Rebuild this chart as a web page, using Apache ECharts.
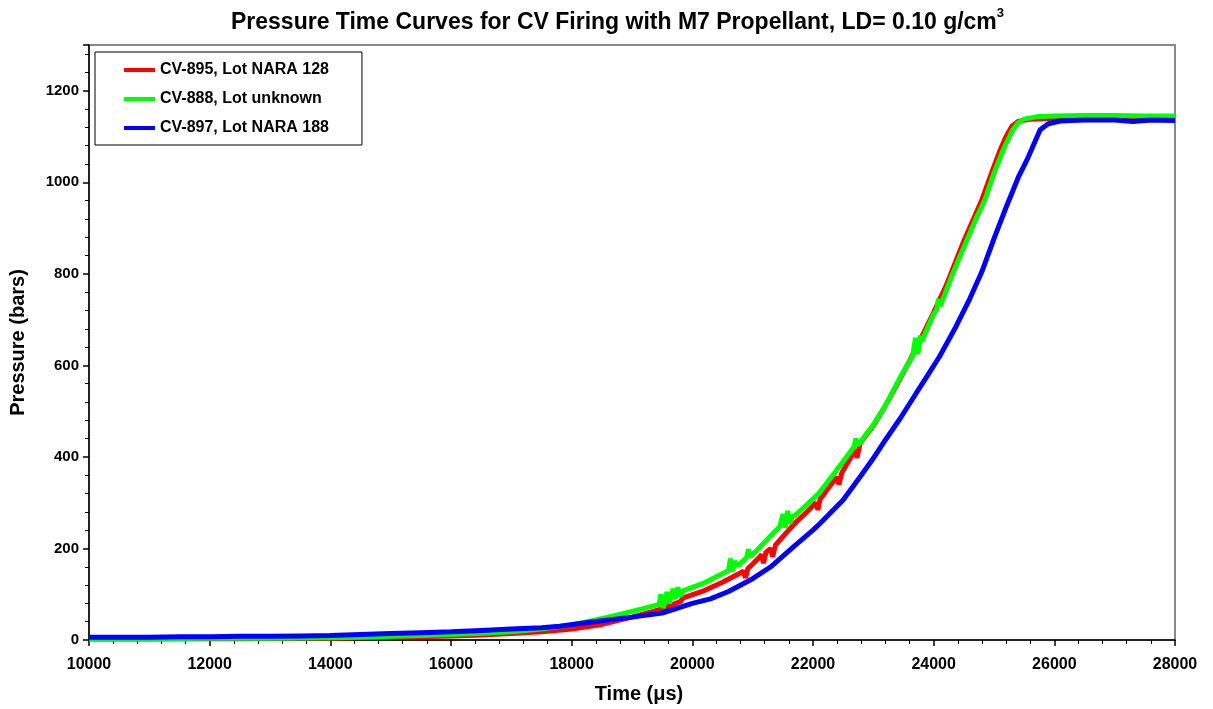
<!DOCTYPE html>
<html>
<head>
<meta charset="utf-8">
<script src="https://cdn.jsdelivr.net/npm/echarts@6/dist/echarts.min.js"></script>
<style>html,body{margin:0;padding:0;background:#fff}#c{width:1213px;height:709px}</style>
</head>
<body>
<div id="c"></div>
<script>
const seriesNames = ['CV-895, Lot NARA 128', 'CV-888, Lot unknown', 'CV-897, Lot NARA 188'];
const seriesColors = ['#ff0000', '#00ff00', '#0000ff'];
const xTicks = [10000, 12000, 14000, 16000, 18000, 20000, 22000, 24000, 26000, 28000];
const yTicks = [0, 200, 400, 600, 800, 1000, 1200];

const cv895 = [[10000,2],[10500,2],[11000,2],[11500,3],[12000,3],[12500,3],[13000,4],[13500,4],[14000,4],[14500,5],[15000,6],[15500,7],[16000,9],[16500,11],[17000,14],[17500,18],[18000,24],[18500,34],[19000,50],[19500,68],[19800,84],[19850,92],[20200,108],[20500,126],[20700,140],[20850,150],[20880,136],[20920,156],[21000,166],[21150,186],[21180,168],[21220,192],[21300,200],[21330,182],[21380,208],[21500,226],[21700,255],[21900,280],[22050,300],[22080,284],[22120,308],[22300,340],[22400,356],[22430,340],[22480,366],[22700,415],[22730,398],[22780,430],[23000,468],[23200,512],[23400,560],[23600,610],[23800,662],[24000,716],[24200,772],[24500,872],[24800,962],[25000,1035],[25100,1070],[25200,1100],[25300,1123],[25400,1133],[25600,1138],[26000,1140],[26500,1141],[27000,1140],[27500,1139],[28000,1138]];

const cv888 = [[10000,3],[11000,3],[12000,4],[13000,4],[14000,5],[14500,6],[15000,8],[15500,10],[16000,12],[16500,15],[17000,18],[17500,24],[18000,33],[18400,44],[18800,56],[19200,69],[19450,78],[19480,100],[19520,70],[19580,105],[19620,80],[19680,112],[19720,90],[19760,115],[19800,96],[19850,108],[19900,110],[20200,125],[20500,145],[20600,152],[20630,178],[20660,150],[20700,172],[20750,162],[20900,180],[20930,198],[20960,182],[21100,200],[21300,228],[21450,248],[21500,275],[21540,245],[21580,282],[21620,255],[21660,270],[21700,272],[21900,296],[22100,321],[22300,355],[22500,390],[22680,422],[22710,440],[22740,425],[23000,470],[23200,512],[23450,575],[23650,620],[23700,660],[23740,625],[23780,665],[23800,652],[24000,712],[24050,722],[24080,745],[24110,730],[24300,795],[24500,858],[24700,920],[24850,962],[25000,1020],[25150,1070],[25300,1112],[25400,1130],[25500,1138],[25700,1143],[26000,1145],[26500,1146],[27000,1146],[27500,1145],[28000,1145]];

const cv897 = [[10000,6],[10500,6],[11000,6],[11500,7],[12000,7],[12500,8],[13000,8],[13500,9],[14000,10],[14500,12],[15000,14],[15500,16],[16000,18],[16500,21],[17000,24],[17500,27],[17800,30],[18200,37],[18500,42],[19000,50],[19500,59],[20000,80],[20300,90],[20600,106],[21000,134],[21300,160],[21680,204],[22000,240],[22120,255],[22500,306],[22800,360],[23000,397],[23200,437],[23450,485],[23700,537],[23900,578],[24100,620],[24350,680],[24600,746],[24800,805],[25000,877],[25200,945],[25400,1010],[25550,1050],[25765,1115],[25900,1128],[26100,1134],[26500,1136],[27000,1136],[27300,1133],[27600,1136],[28000,1135]];

const seriesData = [cv895, cv888, cv897];
const FONT = '"Liberation Sans", Arial, sans-serif';

const chart = echarts.init(document.getElementById('c'), null, {renderer: 'canvas'});
chart.setOption({
  animation: false,
  backgroundColor: '#fff',
  title: {
    text: '{a|Pressure Time Curves for CV Firing with M7 Propellant, LD= 0.10 g/cm}{s|3}',
    left: 231,
    top: 7,
    padding: 0,
    textStyle: {
      rich: {
        a: {fontFamily: FONT, fontWeight: 'bold', fontSize: 23, color: '#000', lineHeight: 32},
        s: {fontFamily: FONT, fontWeight: 'bold', fontSize: 13, color: '#000', verticalAlign: 'top', lineHeight: 14}
      }
    }
  },
  legend: {
    orient: 'vertical',
    left: 95,
    top: 52,
    data: seriesNames,
    icon: 'rect',
    itemWidth: 31,
    itemHeight: 4,
    itemGap: 13,
    padding: [10, 33, 9, 29],
    borderColor: '#000',
    borderWidth: 1,
    backgroundColor: '#fff',
    textStyle: {fontFamily: FONT, fontWeight: 'bold', fontSize: 16, color: '#000'}
  },
  grid: {
    left: 88, right: 38, top: 45, bottom: 69,
    show: true, borderColor: '#888', borderWidth: 2, backgroundColor: 'transparent'
  },
  xAxis: {
    type: 'value',
    min: 10000, max: 28000, interval: 2000,
    name: 'Time (μs)',
    nameLocation: 'middle',
    nameGap: 44,
    nameTextStyle: {fontFamily: FONT, fontWeight: 'bold', fontSize: 20, color: '#000', padding: [0, 0, 0, 14]},
    axisLine: {show: true, lineStyle: {color: '#000', width: 1.5}},
    axisTick: {show: true, length: 6, lineStyle: {color: '#000', width: 1.5}},
    minorTick: {show: true, splitNumber: 5, length: 4, lineStyle: {color: '#000', width: 1}},
    splitLine: {show: false},
    axisLabel: {
      margin: 17, fontFamily: FONT, fontWeight: 'bold', fontSize: 16, color: '#000',
      formatter: v => xTicks.includes(v) ? String(v) : ''
    }
  },
  yAxis: {
    type: 'value',
    min: 0, max: 1300, interval: 200,
    name: 'Pressure (bars)',
    nameLocation: 'middle',
    nameGap: 61,
    nameTextStyle: {fontFamily: FONT, fontWeight: 'bold', fontSize: 20, color: '#000'},
    axisLine: {show: true, lineStyle: {color: '#000', width: 1.5}},
    axisTick: {show: true, length: 6, lineStyle: {color: '#000', width: 1.5}},
    minorTick: {show: true, splitNumber: 5, length: 4, lineStyle: {color: '#000', width: 1}},
    splitLine: {show: false},
    axisLabel: {
      margin: 10, fontFamily: FONT, fontWeight: 'bold', fontSize: 15, color: '#000',
      formatter: v => yTicks.includes(v) ? String(v) : ''
    }
  },
  series: seriesData.map((d, i) => ({
    name: seriesNames[i],
    type: 'line',
    data: d,
    showSymbol: false,
    symbol: 'none',
    color: seriesColors[i],
    lineStyle: {color: seriesColors[i], width: 5},
    z: 2 + i
  }))
});
</script>
</body>
</html>
